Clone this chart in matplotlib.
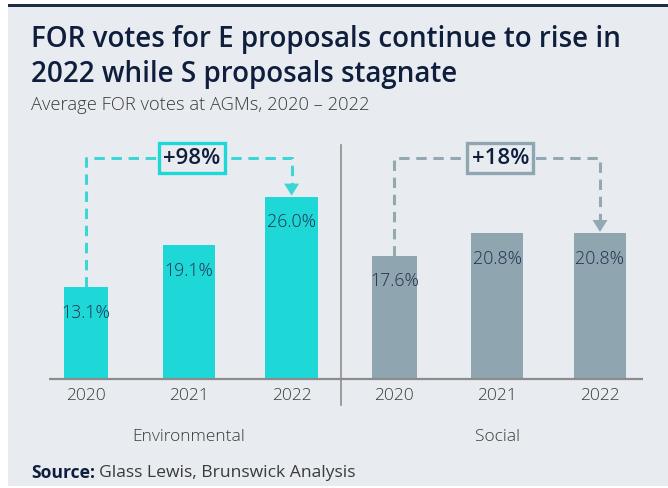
# Average FOR votes at AGMs, E vs S proposals, 2020-2022

import matplotlib.pyplot as plt
from matplotlib.patches import Rectangle, Polygon
import numpy as np

years = ['2020', '2021', '2022']
groups = ['Environmental', 'Social']
env_votes = [13.1, 19.1, 26.0]
soc_votes = [17.6, 20.8, 20.8]
changes = ['+98%', '+18%']

W, H = 668, 488
BG = '#E8ECF0'
CYAN = '#1ED8D8'
GREY = '#8FA5B0'
NAVY = '#0F1E3C'
TXT = '#3A3A3A'

plt.rcParams['font.family'] = ['Open Sans', 'DejaVu Sans']

fig = plt.figure(figsize=(W / 100, H / 100), dpi=100)
fig.patch.set_facecolor('white')

# panel background and top rule
fig.patches.append(Rectangle((8 / W, 2 / H), 660 / W, 481 / H, transform=fig.transFigure,
                             facecolor=BG, edgecolor='none', zorder=0))
fig.patches.append(Rectangle((8 / W, (H - 7) / H), 660 / W, 3 / H, transform=fig.transFigure,
                             facecolor='#1F2D40', edgecolor='none', zorder=1))

# axes covering the whole figure, mapped to pixels via limits
ax = fig.add_axes([0, 0, 1, 1])
ax.set_zorder(5)
ax.set_facecolor('none')
ax.axis('off')
x0, dx = 86, 102.8      # pixel centre of first bar, spacing
base, sy = 379, 7.0     # baseline pixel from top, pixels per unit
ax.set_xlim(-x0 / dx, (W - x0) / dx)
ax.set_ylim(-(H - base) / sy, base / sy)

def px(x):
    return (x - x0) / dx

def py(y):
    return (base - y) / sy

values = env_votes + soc_votes
colors = [CYAN] * 3 + [GREY] * 3
xs = np.arange(len(values))
widths = [0.43, 0.51, 0.51] * 2
ax.bar(xs, values, width=widths, color=colors, zorder=2)

for x, v in zip(xs, values):
    ax.text(x, v - 3.6, '{:.1f}%'.format(v), ha='center', va='center',
            fontsize=12.8, fontweight='light', color='#22304C', zorder=3)

# baseline and divider
ax.plot([px(49), px(643)], [0, 0], color='#8C8C8C', lw=1.6, zorder=3, solid_capstyle='butt')
ax.plot([px(341), px(341)], [py(145), py(405)], color='#8C8C8C', lw=1.2, zorder=3)

# year and group labels
for x, lab in zip(xs, years * 2):
    ax.text(x, py(396), lab, ha='center', va='center', fontsize=12.5, fontweight='light', color=TXT)
for i, g in enumerate(groups):
    ax.text(3 * i + 1, py(437), g, ha='center', va='center', fontsize=12.5, fontweight='light',
            color=TXT)

# change brackets
yb = py(158)
for i, (series, col, lcol, lab) in enumerate([(env_votes, CYAN, '#3CD6D6', changes[0]),
                                              (soc_votes, GREY, '#93A8B2', changes[1])]):
    xl, xr = 3 * i, 3 * i + 2
    head_h = 12 / sy
    head_w = 7.5 / dx
    tip = series[-1] + 0.2
    ax.plot([xl, xl, xr, xr], [series[0], yb, yb, tip + head_h], color=lcol, lw=2.2,
            linestyle=(0, (3.4, 2.2)), zorder=2)
    ax.add_patch(Polygon([[xr - head_w, tip + head_h], [xr + head_w, tip + head_h], [xr, tip]],
                         closed=True, facecolor=lcol, edgecolor='none', zorder=3))
    ax.text(3 * i + 1.03, yb, lab, ha='center', va='center', fontsize=16, fontweight='semibold',
            color=NAVY, zorder=4,
            bbox=dict(boxstyle='square,pad=0.2', facecolor=BG, edgecolor=col, linewidth=2.4))

# titles
fig.text(31 / W, 1 - 47 / H, 'FOR votes for E proposals continue to rise in', fontsize=20,
         fontweight='semibold', color=NAVY, va='baseline')
fig.text(31 / W, 1 - 82 / H, '2022 while S proposals stagnate', fontsize=20,
         fontweight='semibold', color=NAVY, va='baseline')
fig.text(31 / W, 1 - 110 / H, 'Average FOR votes at AGMs, 2020 \u2013 2022', fontsize=13.2,
         fontweight='light', color=TXT, va='baseline')

# source line
t = fig.text(31 / W, 1 - 473 / H, 'Source:', fontsize=12.6, fontweight='bold', color=NAVY, va='center')
fig.canvas.draw()
bb = t.get_window_extent()
fig.text(bb.x1 / W + 4 / W, 1 - 473 / H, 'Glass Lewis, Brunswick Analysis', fontsize=12.6,
         color=TXT, va='center')

fig.savefig('out.png', dpi=100, facecolor=fig.get_facecolor())
